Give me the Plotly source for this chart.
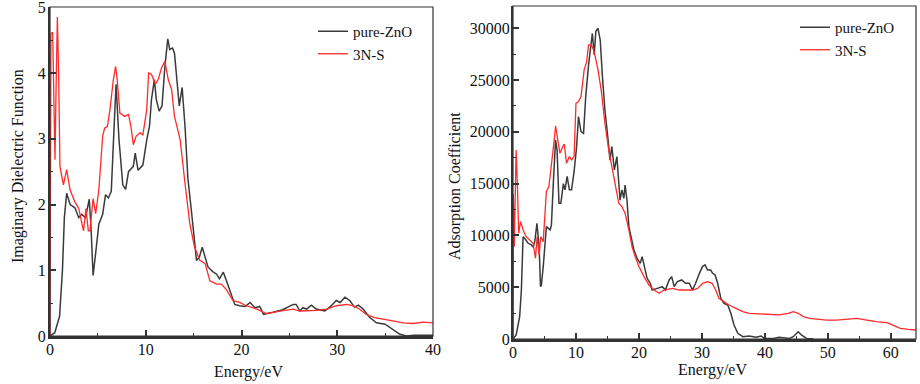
import plotly.graph_objects as go

# ---- Left panel: Imaginary dielectric function ----
eps_zno_x = [0, 0.5, 1.0, 1.3, 1.5, 1.74, 2.1, 2.6, 3.0, 3.3, 3.7, 4.1, 4.3, 4.5, 4.8, 5.1, 5.5, 5.8, 6.1, 6.4, 6.7, 6.9, 7.2, 7.6, 7.9, 8.2, 8.7, 8.9, 9.2, 9.7, 10.1, 10.4, 10.6, 10.9, 11.1, 11.4, 11.7, 12.0, 12.3, 12.5, 12.8, 13.0, 13.5, 13.8, 14.1, 14.4, 14.8, 15.3, 15.6, 15.9, 16.2, 16.5, 17.0, 17.4, 17.7, 18.1, 18.4, 18.8, 19.3, 19.8, 20.4, 20.9, 21.4, 21.9, 22.3, 23.3, 24.3, 25.4, 25.7, 26.1, 26.4, 26.8, 27.3, 27.8, 28.7, 29.3, 29.9, 30.3, 30.8, 31.3, 31.8, 32.2, 32.7, 33.4, 34.1, 35.0, 35.8, 36.5, 37.2, 38.0, 39.0, 40.0]
eps_zno_y = [0.0, 0.05, 0.3, 1.0, 1.8, 2.17, 2.0, 1.95, 1.8, 1.85, 1.8, 2.08, 1.6, 0.92, 1.3, 1.7, 1.85, 2.15, 2.1, 2.2, 3.2, 3.83, 3.0, 2.3, 2.23, 2.5, 2.58, 2.78, 2.52, 2.6, 2.98, 3.2, 3.6, 3.9, 3.6, 3.42, 3.5, 4.1, 4.52, 4.36, 4.38, 4.3, 3.5, 3.78, 3.19, 2.4, 1.86, 1.15, 1.2, 1.35, 1.2, 1.05, 0.98, 0.94, 0.87, 0.97, 0.85, 0.69, 0.48, 0.46, 0.45, 0.51, 0.43, 0.45, 0.33, 0.36, 0.4, 0.48, 0.48, 0.38, 0.43, 0.41, 0.47, 0.41, 0.38, 0.45, 0.54, 0.51, 0.59, 0.54, 0.44, 0.47, 0.41, 0.28, 0.2, 0.18, 0.1, 0.03, 0.0, 0.01, 0.01, 0.01]

eps_ns_x = [0, 0.1, 0.28, 0.52, 0.65, 0.77, 0.9, 1.04, 1.4, 1.74, 2.1, 2.6, 3.0, 3.5, 3.76, 4.0, 4.17, 4.5, 4.77, 5.1, 5.5, 5.7, 6.0, 6.26, 6.6, 6.85, 7.0, 7.3, 7.8, 8.2, 8.45, 8.7, 9.0, 9.4, 9.7, 10.1, 10.3, 10.6, 11.0, 11.3, 11.65, 12.0, 12.35, 12.7, 13.0, 13.6, 14.1, 14.6, 15.1, 15.65, 16.2, 16.7, 17.4, 17.9, 18.4, 19.1, 19.8, 20.5, 21.6, 22.6, 24.0, 25.4, 26.1, 27.8, 28.9, 29.9, 31.0, 31.7, 32.3, 33.0, 33.9, 34.8, 35.8, 36.9, 37.9, 39.0, 40.0]
eps_ns_y = [0.0, 4.6, 4.62, 2.68, 3.9, 4.85, 4.0, 2.58, 2.3, 2.53, 2.22, 2.04, 1.94, 1.6, 1.94, 1.6, 1.6, 2.09, 1.86, 2.22, 3.04, 3.16, 3.19, 3.44, 3.88, 4.1, 3.93, 3.39, 3.34, 3.37, 3.19, 2.91, 3.04, 3.09, 3.06, 3.44, 4.0, 3.98, 3.83, 3.9, 4.08, 4.18, 3.9, 3.75, 3.34, 2.98, 2.32, 1.71, 1.35, 1.15, 1.1, 0.84, 0.79, 0.79, 0.71, 0.54, 0.51, 0.46, 0.41, 0.34, 0.38, 0.41, 0.38, 0.39, 0.41, 0.46, 0.48, 0.46, 0.41, 0.33, 0.28, 0.26, 0.23, 0.2, 0.19, 0.21, 0.2]

# ---- Right panel: Absorption coefficient ----
abs_zno_x = [0, 0.5, 1.06, 1.33, 1.6, 1.86, 2.4, 2.9, 3.2, 3.46, 3.8, 4.15, 4.37, 4.5, 4.8, 5.06, 5.3, 5.9, 6.1, 6.4, 6.76, 7.0, 7.3, 7.6, 8.0, 8.25, 8.6, 8.95, 9.3, 9.7, 10.1, 10.4, 10.8, 11.2, 11.55, 12.0, 12.35, 12.6, 12.9, 13.15, 13.5, 13.85, 14.2, 14.6, 15.1, 15.4, 15.7, 16.1, 16.5, 16.8, 17.0, 17.3, 17.6, 17.8, 18.1, 18.4, 18.8, 19.2, 19.7, 20.2, 20.5, 20.9, 21.3, 21.8, 22.1, 22.9, 23.7, 24.2, 24.8, 25.2, 25.6, 26.1, 26.8, 27.4, 28.0, 28.5, 29.0, 29.6, 30.1, 30.5, 30.9, 31.4, 31.7, 32.1, 32.5, 33.0, 33.5, 34.1, 34.6, 35.1, 35.7, 36.5, 37.5, 38.6, 39.4, 39.9, 41.3, 42.3, 43.9, 44.5, 45.3, 45.8, 46.6, 47.7]
abs_zno_y = [0, 390, 2150, 4730, 9880, 9720, 9240, 9080, 8900, 9400, 11170, 8900, 5050, 5200, 6980, 8920, 10850, 10530, 11000, 15000, 19200, 18250, 13100, 13100, 15000, 14400, 15700, 14400, 14400, 16150, 18570, 21470, 20020, 19860, 23400, 26460, 28230, 29500, 27420, 29680, 30000, 28870, 25330, 22110, 19220, 17280, 18570, 16320, 17600, 14710, 13420, 14390, 13580, 14870, 13420, 10850, 9560, 8590, 7790, 7300, 7950, 6990, 5860, 5380, 4730, 4890, 5050, 4730, 5700, 6020, 5050, 5540, 5700, 5380, 5380, 4730, 5380, 6340, 6990, 7150, 6660, 6660, 6340, 6180, 5380, 3930, 3440, 3280, 2480, 1350, 550, 225, 290, 160, 290, 60, 60, 160, 60, 225, 700, 390, 60, 30]

abs_ns_x = [0, 0.05, 0.2, 0.37, 0.5, 0.7, 0.9, 1.2, 1.6, 2.1, 2.66, 3.2, 3.57, 3.83, 4.15, 4.4, 4.8, 5.06, 5.3, 5.7, 6.1, 6.55, 6.76, 7.1, 7.45, 7.9, 8.15, 8.5, 8.95, 9.3, 9.7, 10.0, 10.4, 10.8, 11.3, 11.7, 12.0, 12.4, 12.7, 13.0, 13.5, 14.0, 14.6, 15.2, 15.7, 16.2, 16.8, 17.3, 17.8, 18.4, 18.9, 19.4, 20.0, 20.8, 21.6, 22.4, 23.2, 24.0, 25.3, 26.4, 27.4, 28.5, 29.3, 30.1, 30.9, 31.6, 32.2, 32.7, 33.5, 34.3, 35.4, 36.5, 37.5, 39.1, 40.7, 42.3, 43.7, 44.5, 45.3, 46.1, 47.1, 48.7, 49.8, 51.4, 53.0, 54.6, 56.2, 57.7, 59.4, 60.4, 61.5, 62.8, 64.0]
abs_ns_y = [0, 14000, 8900, 14700, 18250, 14870, 10200, 11330, 10530, 9880, 9560, 9240, 7790, 9880, 8110, 9880, 9400, 12140, 14230, 14710, 16640, 19220, 20570, 19220, 17930, 18570, 18830, 16960, 17610, 17290, 17610, 22760, 22920, 23400, 25980, 26780, 28390, 28390, 28070, 27420, 25980, 24050, 20830, 18250, 16640, 14710, 13100, 12780, 12140, 10530, 8920, 7950, 6990, 6020, 5210, 4730, 4410, 4730, 4890, 4730, 4730, 4730, 4890, 5380, 5540, 5380, 4730, 3930, 3610, 3280, 2960, 2640, 2480, 2410, 2320, 2320, 2480, 2640, 2480, 2160, 2000, 1900, 1830, 1830, 1900, 2000, 1830, 1670, 1580, 1350, 1030, 930, 870]

series_names = ["pure-ZnO", "3N-S"]
left_xticks = [0, 10, 20, 30, 40]
left_yticks = [0, 1, 2, 3, 4, 5]
right_xticks = [0, 10, 20, 30, 40, 50, 60]
right_yticks = [0, 5000, 10000, 15000, 20000, 25000, 30000]

BLACK = "#3a3a3a"
RED = "#ff2a2a"
FONT = "Liberation Serif"
W, H = 920, 384

fig = go.Figure()
fig.add_trace(go.Scatter(x=eps_zno_x, y=eps_zno_y, mode="lines", name=series_names[0],
                         line=dict(color=BLACK, width=1.5), xaxis="x", yaxis="y", legend="legend"))
fig.add_trace(go.Scatter(x=eps_ns_x, y=eps_ns_y, mode="lines", name=series_names[1],
                         line=dict(color=RED, width=1.3), xaxis="x", yaxis="y", legend="legend"))
fig.add_trace(go.Scatter(x=abs_zno_x, y=abs_zno_y, mode="lines", name=series_names[0],
                         line=dict(color=BLACK, width=1.5), xaxis="x2", yaxis="y2", legend="legend2"))
fig.add_trace(go.Scatter(x=abs_ns_x, y=abs_ns_y, mode="lines", name=series_names[1],
                         line=dict(color=RED, width=1.3), xaxis="x2", yaxis="y2", legend="legend2"))

def axis(dom, rng, ticks, anchor, minor_dtick, thick, size, standoff):
    return dict(domain=dom, range=rng, tickvals=ticks, ticktext=[str(t) for t in ticks],
                anchor=anchor, automargin=False, ticklabeloverflow="allow",
                showline=True, linecolor="#333", linewidth=thick, mirror=False,
                ticks="inside", ticklen=6, tickwidth=1.5, tickcolor="#333",
                minor=dict(ticks="inside", ticklen=3, tickwidth=1.2, tickcolor="#333", dtick=minor_dtick),
                showgrid=False, zeroline=False,
                tickfont=dict(family=FONT, size=size, color="#111"), ticklabelstandoff=standoff)

ld_x = [50 / W, 433 / W]
ld_y = [(H - 336) / H, (H - 7) / H]
rd_x = [513 / W, 916 / W]
rd_y = [(H - 339) / H, (H - 6) / H]

fig.update_layout(
    width=W, height=H, margin=dict(l=0, r=0, t=0, b=0),
    paper_bgcolor="white", plot_bgcolor="white",
    font=dict(family=FONT, color="#111"),
    xaxis=axis(ld_x, [0, 40], left_xticks, "y", 5, 2.5, 16, -3),
    yaxis=axis(ld_y, [0, 5.004], left_yticks, "x", 0.5, 2, 16, -1),
    xaxis2=axis(rd_x, [0, 64], right_xticks, "y2", 5, 2.5, 16, -3),
    yaxis2=axis(rd_y, [0, 32150], right_yticks, "x2", 2500, 2, 16, -2),
    legend=dict(x=313 / W, y=(H - 15) / H, xanchor="left", yanchor="top",
                bgcolor="rgba(0,0,0,0)", font=dict(family=FONT, size=15, color="#111"),
                tracegroupgap=0, itemwidth=30),
    legend2=dict(x=795 / W, y=(H - 11) / H, xanchor="left", yanchor="top",
                 bgcolor="rgba(0,0,0,0)", font=dict(family=FONT, size=15, color="#111"),
                 tracegroupgap=0, itemwidth=30),
    showlegend=True,
)

# frames around plot areas
for xd, yd in [(ld_x, ld_y), (rd_x, rd_y)]:
    fig.add_shape(type="rect", xref="paper", yref="paper", x0=xd[0], x1=xd[1], y0=yd[0], y1=yd[1],
                  line=dict(color="#333", width=1.2), fillcolor="rgba(0,0,0,0)", layer="above")

# axis titles
titles = [
    dict(text="Energy/eV", x=248 / W, y=(H - 372) / H, textangle=0),
    dict(text="Energy/eV", x=712 / W, y=(H - 370) / H, textangle=0),
    dict(text="Imaginary Dielectric Function", x=18 / W, y=(H - 166) / H, textangle=-90),
    dict(text="Adsorption Coefficient", x=455 / W, y=(H - 186) / H, textangle=-90),
]
for t in titles:
    fig.add_annotation(text=t["text"], x=t["x"], y=t["y"], xref="paper", yref="paper",
                       showarrow=False, textangle=t["textangle"], xanchor="center", yanchor="middle",
                       font=dict(family=FONT, size=16, color="#111"))

fig.write_html("out.html", config={"displayModeBar": False},
               post_script="document.body.style.margin='0px';document.body.style.overflow='hidden';")
